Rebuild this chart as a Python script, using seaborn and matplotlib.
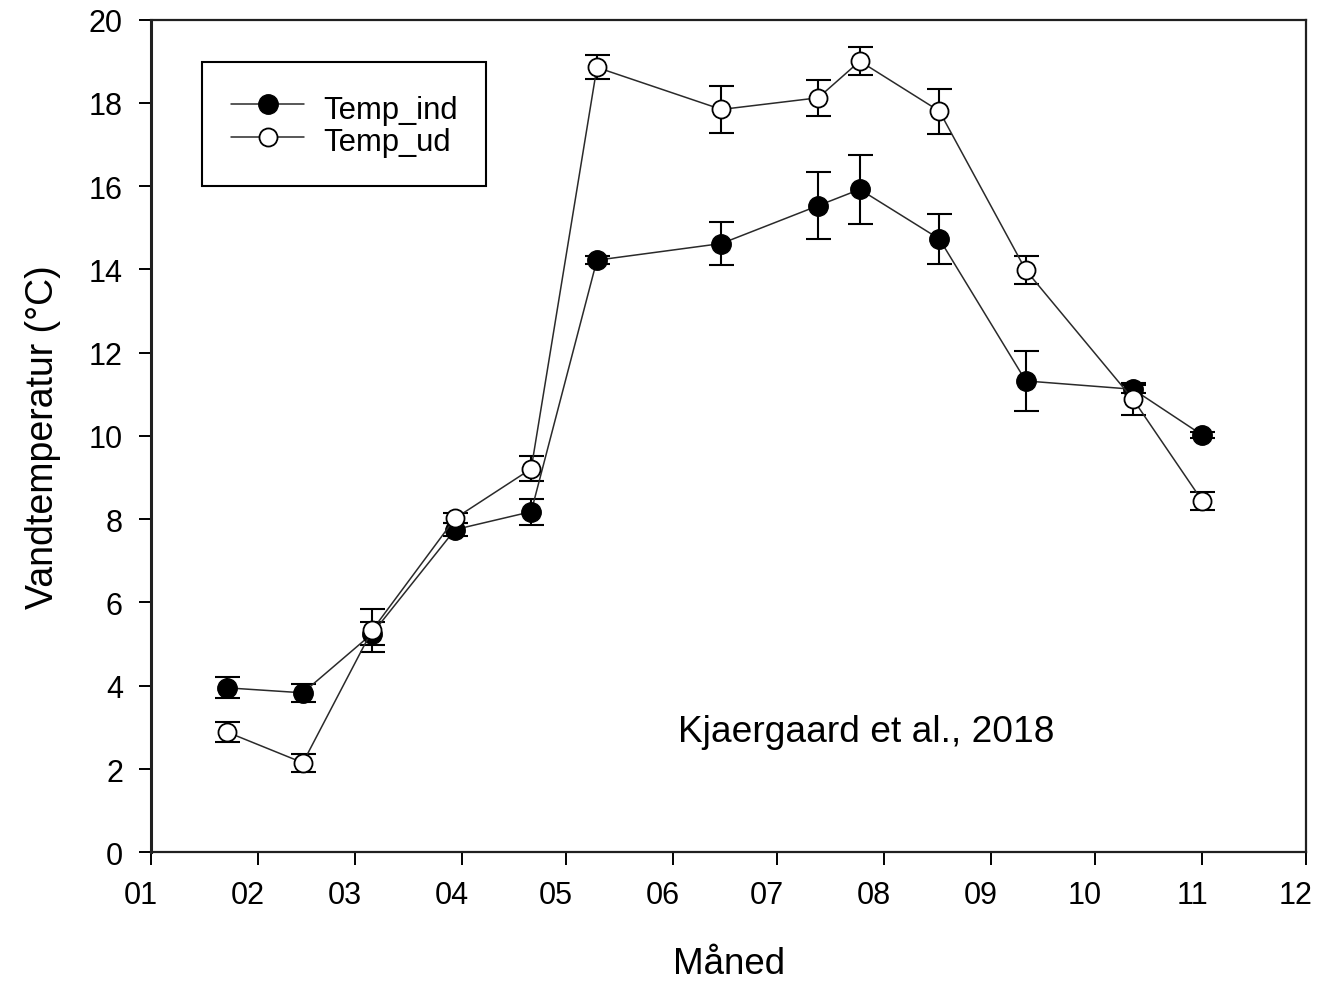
import matplotlib
matplotlib.use("Agg")
import matplotlib.pyplot as plt
import matplotlib.dates as mdates
import matplotlib.transforms as mtransforms
from matplotlib.lines import Line2D
import seaborn as sns
import pandas as pd

# ---- data ----
dates = ["2018-01-23", "2018-02-14", "2018-03-06", "2018-03-30", "2018-04-21",
         "2018-05-10", "2018-06-15", "2018-07-13", "2018-07-25", "2018-08-17",
         "2018-09-11", "2018-10-12", "2018-11-01"]
temp_ind = [3.95, 3.83, 5.25, 7.75, 8.18, 14.22, 14.62, 15.53, 15.92, 14.73, 11.32, 11.12, 10.02]
err_ind = [0.25, 0.22, 0.28, 0.16, 0.31, 0.10, 0.51, 0.80, 0.82, 0.61, 0.72, 0.10, 0.08]
temp_ud = [2.89, 2.15, 5.33, 8.02, 9.21, 18.85, 17.84, 18.12, 19.00, 17.80, 13.98, 10.88, 8.44]
err_ud = [0.23, 0.22, 0.52, 0.12, 0.30, 0.29, 0.57, 0.43, 0.33, 0.54, 0.33, 0.38, 0.21]
series_names = ["Temp_ind", "Temp_ud"]
y_ticks = [0, 2, 4, 6, 8, 10, 12, 14, 16, 18, 20]
x_start, x_end = "2018-01-01", "2018-12-01"
annotation = "Kjaergaard et al., 2018"
x_label = "Måned"
y_label = "Vandtemperatur (°C)"

df = pd.DataFrame({"date": pd.to_datetime(dates),
                   "ind": temp_ind, "ind_err": err_ind,
                   "ud": temp_ud, "ud_err": err_ud})

sns.set_style("ticks")
plt.rcParams["font.family"] = ["Liberation Sans", "DejaVu Sans"]
plt.rcParams["text.color"] = "black"
plt.rcParams["axes.labelcolor"] = "black"

fig = plt.figure(figsize=(13.17, 9.87), dpi=100)
ax = fig.add_axes([150.7 / 1317, 1 - 853.3 / 987, (1306 - 150.7) / 1317, (853.3 - 20.5) / 987])

line_col = "#2a2a2a"
ms = 14

# error bars (under the markers)
for col, ecol in (("ind", "ind_err"), ("ud", "ud_err")):
    ax.errorbar(df["date"], df[col], yerr=df[ecol], fmt="none", ecolor="black",
                elinewidth=1.5, capsize=9, capthick=1.5, zorder=2)

sns.lineplot(data=df, x="date", y="ind", ax=ax, color=line_col, linewidth=1.1,
             marker="o", markersize=ms, markerfacecolor="black",
             markeredgecolor="black", markeredgewidth=1.0, zorder=3,
             estimator=None, sort=False)
sns.lineplot(data=df, x="date", y="ud", ax=ax, color=line_col, linewidth=1.1,
             marker="o", markersize=ms - 1, markerfacecolor="white",
             markeredgecolor="black", markeredgewidth=1.3, zorder=4,
             estimator=None, sort=False)

ax.set_xlim(pd.Timestamp(x_start), pd.Timestamp(x_end))
ax.set_ylim(0, 20)
ax.set_yticks(y_ticks)
ax.xaxis.set_major_locator(mdates.MonthLocator())
ax.xaxis.set_major_formatter(mdates.DateFormatter("%m"))

ax.tick_params(axis="both", direction="out", length=9, width=1.4,
               labelsize=22, pad=11, colors="black", top=False, right=False)
shift = mtransforms.ScaledTranslation(-10 / 100, 0, fig.dpi_scale_trans)
for lbl in ax.get_xticklabels():
    lbl.set_transform(lbl.get_transform() + shift)
for side in ("left", "right", "top", "bottom"):
    ax.spines[side].set_visible(True)
    ax.spines[side].set_linewidth(1.6)
    ax.spines[side].set_color("#202020")
ax.spines["left"].set_linewidth(2.2)

ax.set_xlabel(x_label, fontsize=26.5)
ax.set_ylabel(y_label, fontsize=27)
ax.xaxis.set_label_coords(0.501, -0.112)
ax.yaxis.set_label_coords(-0.078, 0.5)

ax.text(0.4564, 0.1336, annotation, transform=ax.transAxes, fontsize=26.7,
        ha="left", va="baseline", color="black")

handles = [
    Line2D([], [], color=line_col, linewidth=1.1, marker="o", markersize=ms,
           markerfacecolor="black", markeredgecolor="black"),
    Line2D([], [], color=line_col, linewidth=1.1, marker="o", markersize=ms - 1,
           markerfacecolor="white", markeredgecolor="black", markeredgewidth=1.3),
]
leg = ax.legend(handles, series_names, loc="upper left",
                bbox_to_anchor=((202 - 150.7) / 1155.3, (853.3 - 63) / 832.8),
                borderaxespad=0, fontsize=22.3, frameon=True, fancybox=False,
                edgecolor="black", framealpha=1, handlelength=2.37,
                handletextpad=0.6, borderpad=0.93, handleheight=1.3,
                labelspacing=-0.07)
leg.get_frame().set_linewidth(1.5)

fig.savefig("out.png", dpi=100)
